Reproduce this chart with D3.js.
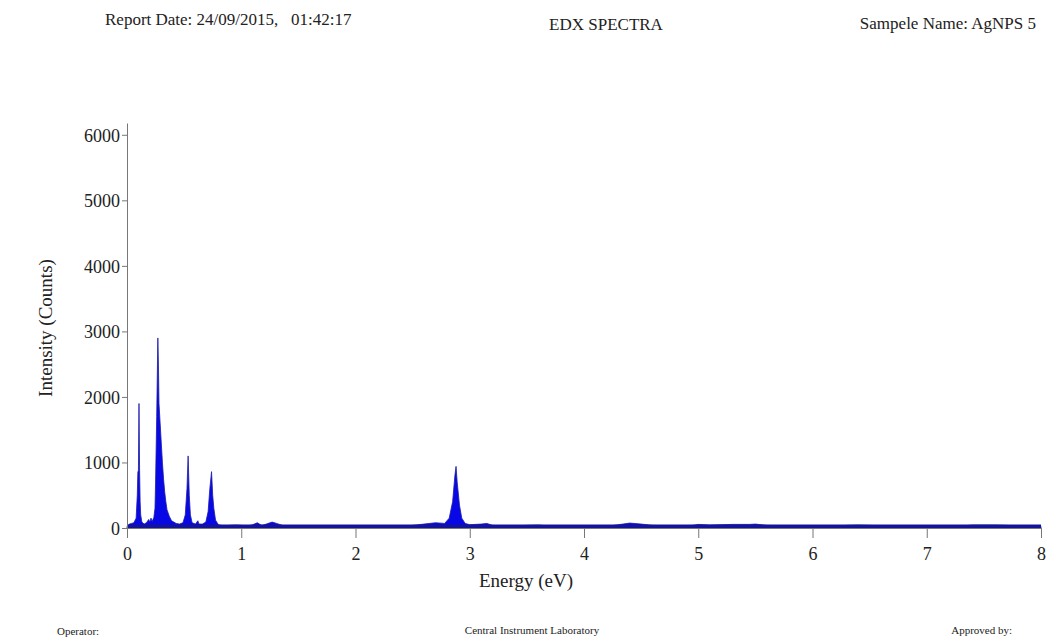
<html>
<head>
<script src="https://d3js.org/d3.v7.min.js"></script>
<style>
  body { margin: 0; background: #fff; }
  text { font-family: "Liberation Serif", "Times New Roman", serif; fill: #222; }
</style>
</head>
<body>
<svg id="plot" width="1056" height="643"></svg>
<script>
// spectrum (energy in eV, counts)
const energy = [0.00, 0.02, 0.04, 0.06, 0.08, 0.09, 0.095, 0.10, 0.105, 0.11, 0.115, 0.12, 0.13, 0.15, 0.17, 0.19, 0.20, 0.21, 0.22, 0.235,
  0.245, 0.25, 0.26, 0.265, 0.27, 0.275, 0.28, 0.29, 0.30, 0.31, 0.32, 0.33, 0.34, 0.35, 0.37, 0.39, 0.41, 0.43, 0.46, 0.49,
  0.51, 0.525, 0.535, 0.545, 0.555, 0.57, 0.60, 0.62, 0.63, 0.66, 0.69, 0.71, 0.725, 0.74, 0.75, 0.76, 0.775,
  0.80, 0.85, 0.90, 0.95, 1.00, 1.05, 1.10, 1.14, 1.18, 1.22, 1.27, 1.31, 1.36, 1.45, 1.6, 1.8, 2.0,
  2.1, 2.2, 2.3, 2.4, 2.5, 2.6, 2.7, 2.78, 2.82, 2.85, 2.87, 2.88, 2.89, 2.91, 2.93, 2.96, 3.0, 3.1, 3.15, 3.2,
  3.3, 3.4, 3.5, 3.6, 3.7, 3.8, 3.9, 4.0, 4.1, 4.2, 4.3, 4.4, 4.5, 4.6, 4.7, 4.8, 4.95, 5.0, 5.1, 5.2, 5.3, 5.45,
  5.5, 5.6, 5.7, 5.8, 5.9, 6.0, 6.1, 6.2, 6.3, 6.4, 6.5, 6.6, 6.7, 6.8, 6.9, 7.0, 7.1, 7.2, 7.3, 7.4, 7.5, 7.6,
  7.7, 7.8, 7.9, 8.0];
const counts = [20, 60, 70, 80, 150, 500, 850, 880, 1900, 900, 400, 200, 90, 60, 80, 130, 90, 150, 100, 160,
  300, 700, 1700, 2300, 2900, 2500, 1900, 1600, 1300, 1000, 750, 550, 400, 280, 180, 110, 90, 70, 60, 80,
  200, 600, 1100, 500, 200, 80, 60, 110, 60, 60, 90, 250, 600, 860, 500, 300, 120,
  50, 30, 40, 45, 40, 25, 50, 80, 40, 60, 90, 70, 40, 20, 15, 10, 5,
  20, 25, 30, 30, 40, 60, 80, 70, 150, 400, 800, 940, 700, 350, 150, 70, 50, 60, 70, 40,
  30, 30, 40, 45, 30, 20, 15, 15, 20, 25, 50, 75, 60, 40, 35, 30, 40, 55, 45, 50, 55, 55,
  60, 40, 35, 30, 25, 20, 15, 20, 40, 45, 40, 35, 25, 20, 10, 35, 35, 15, 30, 45, 45, 45,
  40, 30, 25, 25];

const xTicks = [0, 1, 2, 3, 4, 5, 6, 7, 8];
const yTicks = [0, 1000, 2000, 3000, 4000, 5000, 6000];

const svg = d3.select("#plot");
const data = energy.map((e, i) => ({ e: e, c: counts[i] }));

const x = d3.scaleLinear().domain([0, 8]).range([127, 1041]);
const y = d3.scaleLinear().domain([0, 6180]).range([528, 123]);

// header
svg.append("text").attr("x", 105).attr("y", 25).attr("font-size", 17)
  .attr("xml:space", "preserve").text("Report Date: 24/09/2015,   01:42:17");
svg.append("text").attr("x", 606).attr("y", 30).attr("font-size", 17)
  .attr("text-anchor", "middle").text("EDX SPECTRA");
svg.append("text").attr("x", 1036).attr("y", 29).attr("font-size", 17)
  .attr("text-anchor", "end").text("Sampele Name: AgNPS 5");

// spectrum
const area = d3.area().x(d => x(d.e)).y0(y(0)).y1(d => y(d.c));
svg.append("path").datum(data)
  .attr("d", area)
  .attr("fill", "#0808e6")
  .attr("stroke", "#1a1aa8")
  .attr("stroke-width", 0.8);
svg.append("line")
  .attr("x1", x(0)).attr("x2", x(8))
  .attr("y1", y(0) - 1.5).attr("y2", y(0) - 1.5)
  .attr("stroke", "#14149a").attr("stroke-width", 4);

// axes
const yAxis = svg.append("g").attr("transform", "translate(" + x(0) + ",0)")
  .call(d3.axisLeft(y).tickValues(yTicks).tickFormat(d3.format("d"))
    .tickSize(5).tickSizeOuter(0).tickPadding(2));
const xAxis = svg.append("g").attr("transform", "translate(0," + y(0) + ")")
  .call(d3.axisBottom(x).tickValues(xTicks).tickFormat(d3.format("d"))
    .tickSize(10).tickSizeOuter(0).tickPadding(9));
[xAxis, yAxis].forEach(a => {
  a.select(".domain").attr("stroke", "#777");
  a.selectAll(".tick line").attr("stroke", "#777");
  a.selectAll(".tick text").attr("font-size", 18)
    .attr("font-family", "Liberation Serif, serif").attr("fill", "#333");
});
yAxis.selectAll(".tick text").attr("dy", "0.35em");

svg.append("text").attr("x", 526).attr("y", 587).attr("font-size", 19)
  .attr("text-anchor", "middle").text("Energy (eV)");
svg.append("text").attr("transform", "translate(52,328) rotate(-90)").attr("font-size", 19)
  .attr("text-anchor", "middle").text("Intensity (Counts)");

// footer
const foot = svg.append("g");
foot.append("text").attr("x", 57).attr("y", 635).attr("font-size", 11).text("Operator:");
foot.append("text").attr("x", 532).attr("y", 634).attr("font-size", 11)
  .attr("text-anchor", "middle").text("Central Instrument Laboratory");
foot.append("text").attr("x", 1012).attr("y", 634).attr("font-size", 11)
  .attr("text-anchor", "end").text("Approved by:");
</script>
</body>
</html>
